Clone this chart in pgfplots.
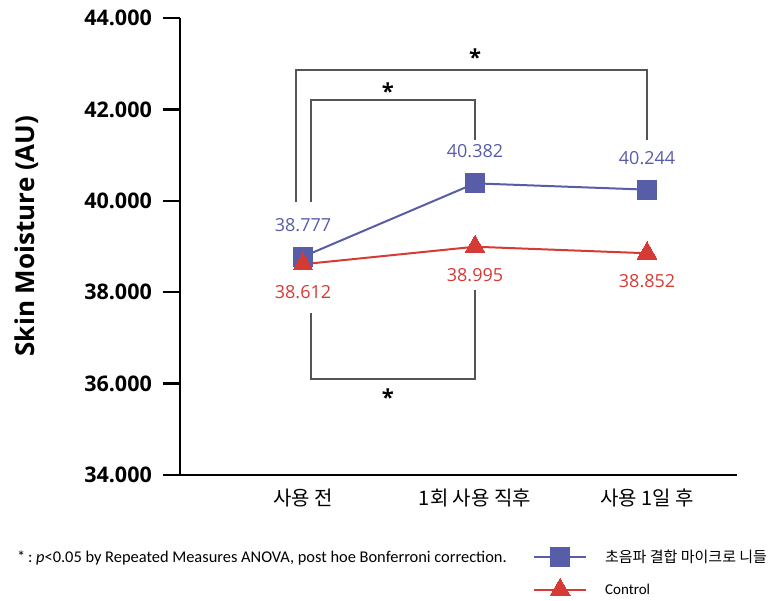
\documentclass[border=0pt]{standalone}
\usepackage{pgfplots}
\pgfplotsset{compat=1.18}
\usepackage{fontspec}
\setmainfont{Open Sans}
\newfontfamily\kr{Noto Sans CJK KR}
\newfontfamily\calfont{Carlito}
\definecolor{bluec}{RGB}{88,93,168}
\definecolor{redc}{RGB}{214,58,52}
\definecolor{brk}{RGB}{85,85,85}
\begin{document}
\begin{tikzpicture}
\path[use as bounding box] (0pt,0pt) rectangle (771pt,600pt);
\begin{axis}[
  at={(180pt,125pt)}, anchor=south west,
  scale only axis, width=557pt, height=457pt,
  xmin=-0.715, xmax=2.523,
  ymin=34, ymax=44,
  axis lines=left, axis line style={-, line width=2.5pt, black},
  ytick={34,36,38,40,42,44},
  xtick={0,1,2},
  xticklabels={{\kr 사용 전},{\kr 1회 사용 직후},{\kr 사용 1일 후}},
  tick align=outside,
  major tick length=17pt,
  ytick style={line width=2.5pt, black},
  xtick style={draw=none},
  /pgf/number format/assume math mode=true,
  /pgf/number format/.cd, fixed, fixed zerofill, precision=3,
  /pgfplots/.cd,
  yticklabel style={font=\bfseries\fontsize{21.5}{25}\selectfont, anchor=east, inner sep=0pt, xshift=-11pt},
  xticklabel style={font=\fontsize{20}{23}\selectfont, anchor=center, inner sep=0pt, yshift=-6pt},
  ylabel={\bfseries Skin Moisture (AU)},
  ylabel style={font=\fontsize{26}{30}\selectfont, at={(axis description cs:-0.275,0.523)}, anchor=center},
  clip=false,
  legend style={at={(axis description cs:0.634,-0.158)}, anchor=north west, draw=none, fill=none,
    inner sep=0pt, outer sep=0pt, row sep=12pt, column sep=0pt,
    /tikz/every odd column/.append style={column sep=18pt},
    nodes={inner sep=0pt, anchor=west}, font=\fontsize{15}{18}\selectfont},
  legend cell align=left,
  legend image code/.code={\draw[mark repeat=2,mark phase=2] plot coordinates {(0pt,0pt) (26pt,0pt) (52pt,0pt)};},
]
\addplot[color=bluec, line width=2pt, mark=square*, mark size=9.5pt, mark options={fill=bluec, draw=bluec, line width=0pt},
  nodes near coords,
  every node near coord/.append style={anchor=center, yshift=32pt, text=bluec, font=\fontsize{18}{21}\selectfont}]
  coordinates {(0,38.777) (1,40.382) (2,40.244)};
\addlegendentry{\kr 초음파 결합 마이크로 니들}
\addplot[color=redc, line width=2pt, mark=triangle*, mark size=11.5pt, mark options={fill=redc, draw=redc, line width=0pt},
  nodes near coords,
  every node near coord/.append style={anchor=center, yshift=-28pt, text=redc, font=\fontsize{18}{21}\selectfont}]
  coordinates {(0,38.612) (1,38.995) (2,38.852)};
\addlegendentry{\calfont Control}
% significance brackets
\draw[brk, line width=1.4pt] (axis cs:-0.041,39.97) |- (axis cs:2,42.86) -- (axis cs:2,41.33);
\draw[brk, line width=1.4pt] (axis cs:0.047,39.97) |- (axis cs:1,42.21) -- (axis cs:1,41.33);
\draw[brk, line width=1.4pt] (axis cs:0.047,37.545) |- (axis cs:1,36.10) -- (axis cs:1,38.05);
\node[font=\bfseries\fontsize{22}{26}\selectfont, yshift=-4pt] at (axis cs:1,43.234) {*};
\node[font=\bfseries\fontsize{22}{26}\selectfont, yshift=-4pt] at (axis cs:0.494,42.49) {*};
\node[font=\bfseries\fontsize{22}{26}\selectfont, yshift=-4pt] at (axis cs:0.494,35.79) {*};
\end{axis}
\node[anchor=west, font=\calfont\fontsize{16.4}{19}\selectfont, inner sep=0pt] at (17pt,42pt) {*\,:\ \textit{p}<0.05 by Repeated Measures ANOVA, post hoe Bonferroni correction.};
\end{tikzpicture}
\end{document}
